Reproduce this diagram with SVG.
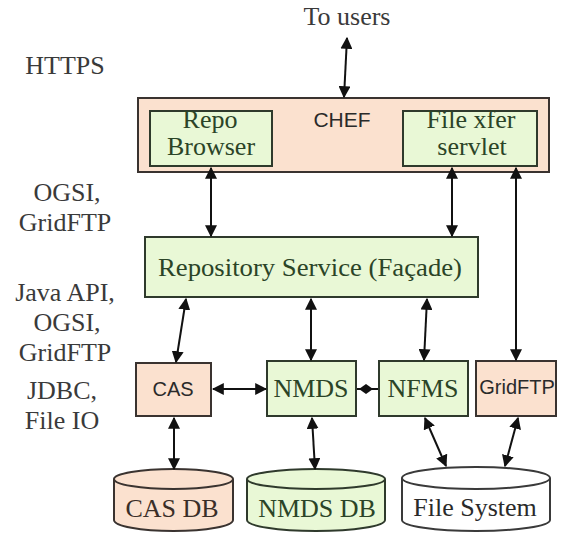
<svg xmlns="http://www.w3.org/2000/svg" width="566" height="533" viewBox="0 0 566 533">
<style>
.peach{fill:#fbe1cf;stroke:#3a3330;stroke-width:2}
.green{fill:#e9f8d6;stroke:#2f3a2c;stroke-width:2}
.white{fill:#ffffff;stroke:#3a3a3a;stroke-width:2}
.ser{font-family:"Liberation Serif","Times New Roman",serif;font-size:26px;fill:#2a2a2a;text-anchor:middle}
.sgr{font-family:"Liberation Serif","Times New Roman",serif;font-size:26px;fill:#2b4427;text-anchor:middle}
.san{font-family:"Liberation Sans",Arial,sans-serif;font-size:20px;fill:#2a2a2a;text-anchor:middle}
.lbl{font-family:"Liberation Serif","Times New Roman",serif;font-size:26px;fill:#3a3a3a;text-anchor:middle}
.con{stroke:#111;stroke-width:2;fill:none;marker-start:url(#ah);marker-end:url(#ah)}
</style>
<defs>
<marker id="ah" viewBox="0 0 10 10" refX="9" refY="5" markerWidth="6" markerHeight="6" orient="auto-start-reverse" markerUnits="strokeWidth">
<path d="M0,0 L10,5 L0,10 z" fill="#111"/>
</marker>
</defs>
<rect width="566" height="533" fill="#ffffff"/>
<g id="labels">
<text class="lbl" x="347" y="25">To users</text>
<text class="lbl" x="65" y="74">HTTPS</text>
<text class="lbl" x="67" y="201">OGSI,</text>
<text class="lbl" x="65" y="231">GridFTP</text>
<text class="lbl" x="65" y="301">Java API,</text>
<text class="lbl" x="67" y="331">OGSI,</text>
<text class="lbl" x="65" y="361">GridFTP</text>
<text class="lbl" x="62" y="399">JDBC,</text>
<text class="lbl" x="62" y="429">File IO</text>
</g>
<g id="chef">
<rect class="peach" x="138" y="98" width="411" height="74"/>
<text class="san" x="342" y="127" style="font-size:21px">CHEF</text>
</g>
<g id="repo-browser">
<rect class="green" x="150" y="111" width="122" height="55"/>
<text class="sgr" x="210" y="128">Repo</text>
<text class="sgr" x="211" y="155">Browser</text>
</g>
<g id="file-xfer">
<rect class="green" x="403" y="111" width="134" height="55"/>
<text class="sgr" x="471" y="128">File xfer</text>
<text class="sgr" x="472" y="155">servlet</text>
</g>
<g id="repository-service">
<rect class="green" x="145" y="237" width="333" height="60"/>
<text class="sgr" x="310" y="276" textLength="304" lengthAdjust="spacingAndGlyphs">Repository Service (Façade)</text>
</g>
<g id="cas">
<rect class="peach" x="136" y="363" width="75" height="53"/>
<text class="san" x="173" y="396">CAS</text>
</g>
<g id="nmds">
<rect class="green" x="267" y="361" width="89" height="55"/>
<text class="sgr" x="311" y="397">NMDS</text>
</g>
<g id="nfms">
<rect class="green" x="379" y="361" width="89" height="55"/>
<text class="sgr" x="423" y="397">NFMS</text>
</g>
<g id="gridftp">
<rect class="peach" x="476" y="361" width="80" height="55"/>
<text class="san" x="517" y="394">GridFTP</text>
</g>
<g id="cas-db">
<path class="peach" d="M114,479 L114,520 A59.5,11 0 0 0 233,520 L233,479"/>
<ellipse class="peach" cx="173.5" cy="479" rx="59.5" ry="10"/>
<text class="ser" x="172" y="517" style="fill:#3a2e28">CAS DB</text>
</g>
<g id="nmds-db">
<path class="green" d="M247,479 L247,520 A69,11 0 0 0 385,520 L385,479"/>
<ellipse class="green" cx="316" cy="479" rx="69" ry="10"/>
<text class="sgr" x="317" y="517">NMDS DB</text>
</g>
<g id="file-system">
<path class="white" d="M402,478 L402,520 A74,11 0 0 0 550,520 L550,478"/>
<ellipse class="white" cx="476" cy="478" rx="74" ry="11"/>
<text class="ser" x="475" y="516">File System</text>
</g>
<g id="connectors">
<line class="con" x1="347" y1="38" x2="344" y2="97"/>
<line class="con" x1="211" y1="168" x2="211" y2="236"/>
<line class="con" x1="452" y1="168" x2="452" y2="236"/>
<line class="con" x1="516" y1="168" x2="516" y2="360"/>
<line class="con" x1="186" y1="299" x2="176" y2="362"/>
<line class="con" x1="311" y1="299" x2="311" y2="360"/>
<line class="con" x1="427" y1="299" x2="424" y2="360"/>
<line class="con" x1="213" y1="389" x2="266" y2="389"/>
<line x1="357" y1="389" x2="378" y2="389" stroke="#111" stroke-width="2"/>
<path d="M359,389 L366,384 L373,389 L366,394 z" fill="#111"/>
<line class="con" x1="174" y1="418" x2="174" y2="469"/>
<line class="con" x1="312" y1="418" x2="315" y2="469"/>
<line class="con" x1="425" y1="418" x2="446" y2="466"/>
<line class="con" x1="518" y1="418" x2="505" y2="466"/>
</g>
</svg>
